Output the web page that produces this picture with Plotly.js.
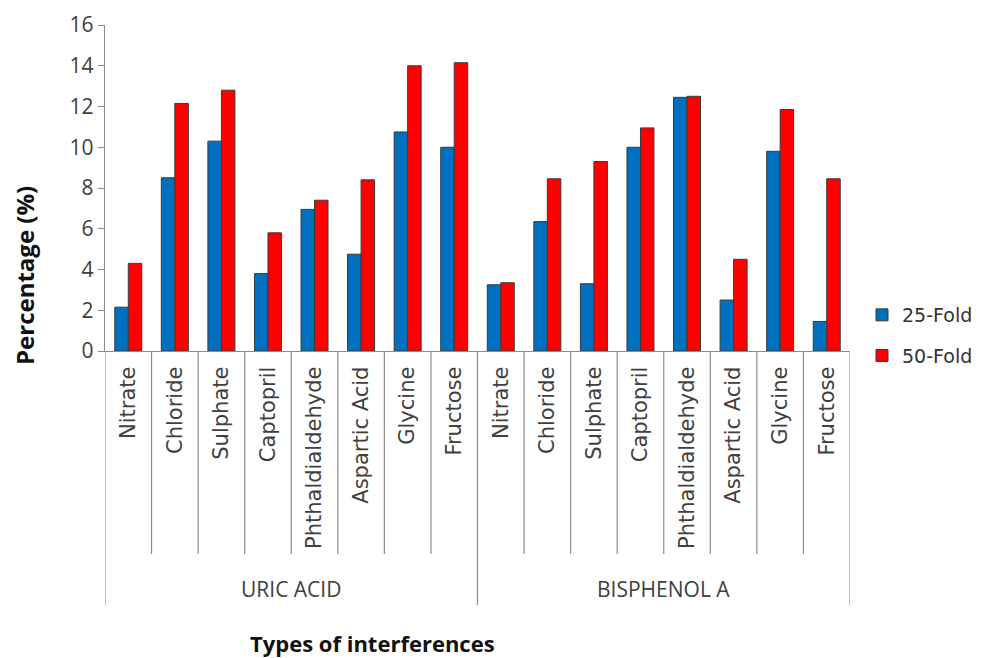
<!DOCTYPE html>
<html>
<head>
<meta charset="utf-8">
<script src="https://cdn.plot.ly/plotly-3.0.1.min.js"></script>
<style>html,body{margin:0;padding:0;background:#fff;}#chart{width:992px;height:658px;}</style>
</head>
<body>
<div id="chart"></div>
<script>
const groups = ['URIC ACID', 'BISPHENOL A'];
const interferences = ['Nitrate', 'Chloride', 'Sulphate', 'Captopril', 'Phthaldialdehyde', 'Aspartic Acid', 'Glycine', 'Fructose'];
const fold25UricAcid = [2.15, 8.5, 10.3, 3.8, 6.95, 4.75, 10.75, 10.0];
const fold50UricAcid = [4.3, 12.15, 12.8, 5.8, 7.4, 8.4, 14.0, 14.15];
const fold25Bisphenol = [3.25, 6.35, 3.3, 10.0, 12.45, 2.5, 9.8, 1.45];
const fold50Bisphenol = [3.35, 8.45, 9.3, 10.95, 12.5, 4.5, 11.85, 8.45];
const seriesNames = ['25-Fold', '50-Fold'];
const yTicks = [0, 2, 4, 6, 8, 10, 12, 14, 16];

const nCat = interferences.length;
const labels = groups.flatMap(() => interferences);
const xIdx = labels.map((_, i) => i);
const y25 = fold25UricAcid.concat(fold25Bisphenol);
const y50 = fold50UricAcid.concat(fold50Bisphenol);

const outline = {color: '#3a3a3a', width: 1};
const traces = [
  {type: 'bar', name: seriesNames[0], x: xIdx, y: y25, marker: {color: '#0070C0', line: outline}, legendgroup: 'a'},
  {type: 'bar', name: seriesNames[1], x: xIdx, y: y50, marker: {color: '#FF0000', line: outline}, legendgroup: 'b'}
];

const plotH = 658 - 25 - 307;
const plotW = 992 - 105 - 142;
const innerDepth = -(554 - 351) / plotH;
const outerDepth = -(605 - 351) / plotH;
const shapes = [];
for (let b = 0; b <= labels.length; b++) {
  const isOuter = b % nCat === 0;
  shapes.push({type: 'line', xref: 'x', yref: 'paper', x0: b - 0.5, x1: b - 0.5, y0: 0, y1: isOuter ? outerDepth : innerDepth,
    line: {color: '#8c8c8c', width: 1.2}});
}
const annotations = groups.map((g, gi) => ({
  xref: 'x', yref: 'paper', x: gi * nCat + (nCat - 1) / 2, y: -(589 - 351) / plotH,
  text: g, showarrow: false, xanchor: 'center', yanchor: 'middle',
  font: {family: 'Open Sans, sans-serif', size: 21, color: '#404040'}
}));
annotations.push({
  xref: 'paper', yref: 'paper', x: (372 - 105) / plotW, y: -(643 - 351) / plotH,
  text: '<b>Types of interferences</b>', showarrow: false, xanchor: 'center', yanchor: 'middle',
  font: {family: 'Open Sans, sans-serif', size: 22, color: '#111'}
});
annotations.push({
  xref: 'paper', yref: 'paper', x: (24 - 105) / plotW, y: (351 - 276) / plotH,
  text: '<b>Percentage (%)</b>', showarrow: false, textangle: -90, xanchor: 'center', yanchor: 'middle',
  font: {family: 'Open Sans, sans-serif', size: 24, color: '#111'}
});

const layout = {
  width: 992, height: 658,
  margin: {l: 105, r: 142, t: 25, b: 307},
  paper_bgcolor: '#fff', plot_bgcolor: '#fff',
  barmode: 'group', bargap: 0.42, bargroupgap: 0,
  showlegend: true,
  legend: {x: (862 - 105) / plotW, y: (351 - 296) / plotH, xanchor: 'left', yanchor: 'top',
    font: {family: 'DejaVu Sans, sans-serif', size: 19, color: '#333'},
    traceorder: 'grouped', tracegroupgap: 13, itemwidth: 30},
  xaxis: {
    range: [-0.5, labels.length - 0.5], tickmode: 'array', tickvals: xIdx, ticktext: labels,
    tickangle: -90, ticks: '', ticklabelstandoff: 6,
    tickfont: {family: 'DejaVu Sans, sans-serif', size: 21, color: '#404040'},
    showline: true, linecolor: '#8c8c8c', linewidth: 1.2, showgrid: false, zeroline: false
  },
  yaxis: {
    range: [0, 16], tickmode: 'array', tickvals: yTicks, ticks: 'outside', ticklen: 6, tickcolor: '#8c8c8c',
    tickfont: {family: 'Open Sans, sans-serif', size: 21, color: '#404040'},
    showline: true, linecolor: '#8c8c8c', linewidth: 1.2, showgrid: false, zeroline: false
  },
  shapes: shapes,
  annotations: annotations
};
Plotly.newPlot('chart', traces, layout, {displayModeBar: false, staticPlot: true});
</script>
</body>
</html>
